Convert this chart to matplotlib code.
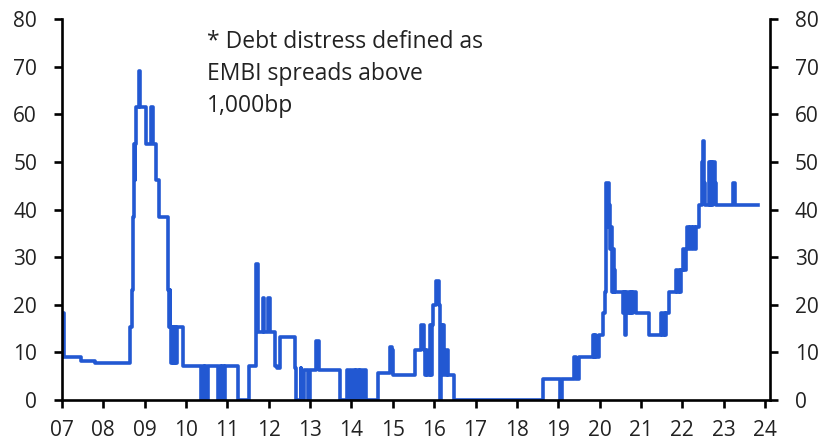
import matplotlib.pyplot as plt

###### DATA ######
# Share of EM sovereigns in debt distress (%), change points of a step series
dates = [
    2007.00, 2007.01, 2007.04, 2007.47, 2007.80,
    2008.64, 2008.69, 2008.72, 2008.74, 2008.76, 2008.77, 2008.79, 2008.86, 2008.89,
    2009.02, 2009.16, 2009.19, 2009.27, 2009.35, 2009.56, 2009.59, 2009.60, 2009.62,
    2009.64, 2009.66, 2009.68, 2009.70, 2009.72, 2009.74, 2009.76, 2009.79, 2009.93,
    2010.37, 2010.40, 2010.43, 2010.46, 2010.49, 2010.52, 2010.78, 2010.81, 2010.84,
    2010.88, 2010.91, 2010.94,
    2011.26, 2011.52, 2011.70, 2011.73, 2011.85, 2011.88, 2011.99,
    2012.02, 2012.14, 2012.20, 2012.27, 2012.64, 2012.67, 2012.77, 2012.79, 2012.86, 2012.94,
    2013.00, 2013.14, 2013.21, 2013.73, 2013.88, 2013.92, 2013.96,
    2014.00, 2014.04, 2014.08, 2014.12, 2014.17, 2014.21, 2014.26, 2014.30, 2014.36,
    2014.64, 2014.92, 2014.97,
    2015.00, 2015.53, 2015.69, 2015.75, 2015.78, 2015.80, 2015.82, 2015.89, 2015.92,
    2015.94, 2015.97,
    2016.04, 2016.11, 2016.14, 2016.16, 2016.19, 2016.21, 2016.24, 2016.27, 2016.30,
    2016.33, 2016.49,
    2018.63, 2019.05, 2019.09, 2019.39, 2019.43, 2019.51, 2019.83, 2019.86, 2019.89,
    2019.92, 2019.98,
    2020.08, 2020.14, 2020.16, 2020.22, 2020.24, 2020.26, 2020.28, 2020.30, 2020.32,
    2020.34, 2020.36, 2020.38, 2020.56, 2020.59, 2020.61, 2020.64, 2020.67, 2020.70,
    2020.73, 2020.76, 2020.79, 2020.82, 2020.87,
    2021.20, 2021.48, 2021.51, 2021.55, 2021.58, 2021.61, 2021.69, 2021.85, 2021.88,
    2021.91, 2021.94, 2021.97,
    2022.01, 2022.05, 2022.08, 2022.12, 2022.16, 2022.19, 2022.23, 2022.27, 2022.30,
    2022.33, 2022.41, 2022.47, 2022.50, 2022.53, 2022.56, 2022.65, 2022.68, 2022.70,
    2022.73, 2022.75, 2022.78, 2022.82,
    2023.23, 2023.28, 2023.84,
]
share = [
    9.1, 18.2, 9.1, 8.3, 7.7,
    15.4, 23.1, 38.5, 53.8, 46.2, 53.8, 61.5, 69.2, 61.5,
    53.8, 61.5, 53.8, 46.2, 38.5, 23.1, 15.4, 23.1, 15.4,
    7.7, 15.4, 7.7, 15.4, 7.7, 15.4, 7.7, 15.4, 7.1,
    0, 7.1, 0, 7.1, 0, 7.1, 0, 7.1, 0,
    7.1, 0, 7.1,
    0, 7.1, 28.6, 14.3, 21.4, 14.3, 21.4,
    14.3, 7.1, 6.7, 13.3, 6.7, 0, 6.7, 0, 6.3, 0,
    6.3, 12.5, 6.3, 0, 6.3, 0, 6.3,
    0, 6.3, 0, 6.3, 0, 6.3, 0, 6.3, 0,
    5.6, 11.1, 10.5,
    5.3, 10.5, 15.8, 10.5, 5.3, 10.5, 5.3, 15.8, 5.3,
    15.8, 20.0,
    25.0, 20.0, 0, 15.8, 5.3, 15.8, 10.5, 5.3, 10.5,
    5.3, 0,
    4.5, 0, 4.5, 9.1, 4.5, 9.1, 13.6, 9.1, 13.6,
    9.1, 13.6,
    18.2, 22.7, 45.5, 36.4, 40.9, 31.8, 36.4, 22.7, 31.8,
    22.7, 27.3, 22.7, 18.2, 22.7, 13.6, 22.7, 18.2, 22.7,
    18.2, 22.7, 18.2, 22.7, 18.2,
    13.6, 18.2, 13.6, 18.2, 13.6, 18.2, 22.7, 27.3, 22.7,
    27.3, 22.7, 27.3,
    31.8, 27.3, 31.8, 36.4, 31.8, 36.4, 31.8, 36.4, 31.8,
    36.4, 40.9, 50.0, 54.5, 45.5, 40.9, 50.0, 40.9, 50.0,
    40.9, 50.0, 45.5, 40.9,
    45.5, 40.9, 40.9,
]

years = list(range(2007, 2025))
year_labels = [f"{y % 100:02d}" for y in years]
y_ticks = [0, 10, 20, 30, 40, 50, 60, 70, 80]

note = "* Debt distress defined as\nEMBI spreads above\n1,000bp"

###### STYLE ######
plt.rcParams['font.family'] = ['Open Sans', 'DejaVu Sans']
text_color = '#222222'

fig = plt.figure(figsize=(8.27, 4.46), dpi=100)
ax = fig.add_axes([0.075, 0.103, 0.856, 0.854])

ax.plot(dates, share, drawstyle='steps-post', color='#2258d2', lw=2.6)

ax.set_xlim(2007, 2024.12)
ax.set_ylim(0, 80)
ax.set_xticks(years)
ax.set_xticklabels(year_labels)
ax.set_yticks(y_ticks)

for side in ['left', 'right', 'bottom']:
    ax.spines[side].set_linewidth(1.9)
    ax.spines[side].set_color('black')
ax.spines['top'].set_visible(False)

ax.tick_params(axis='y', which='both', left=True, right=True,
               labelleft=True, labelright=True, direction='out',
               length=6, width=1.9, pad=12, labelsize=15, labelcolor=text_color)
ax.tick_params(axis='x', direction='out', length=6, width=1.9, pad=8,
               labelsize=15, labelcolor=text_color)

# footnote on the distress definition
fig.text(207 / 827, 1 - 30 / 446, note, ha='left', va='top', fontsize=16.5,
         color=text_color, linespacing=1.45)

fig.savefig('out.png', dpi=100)
